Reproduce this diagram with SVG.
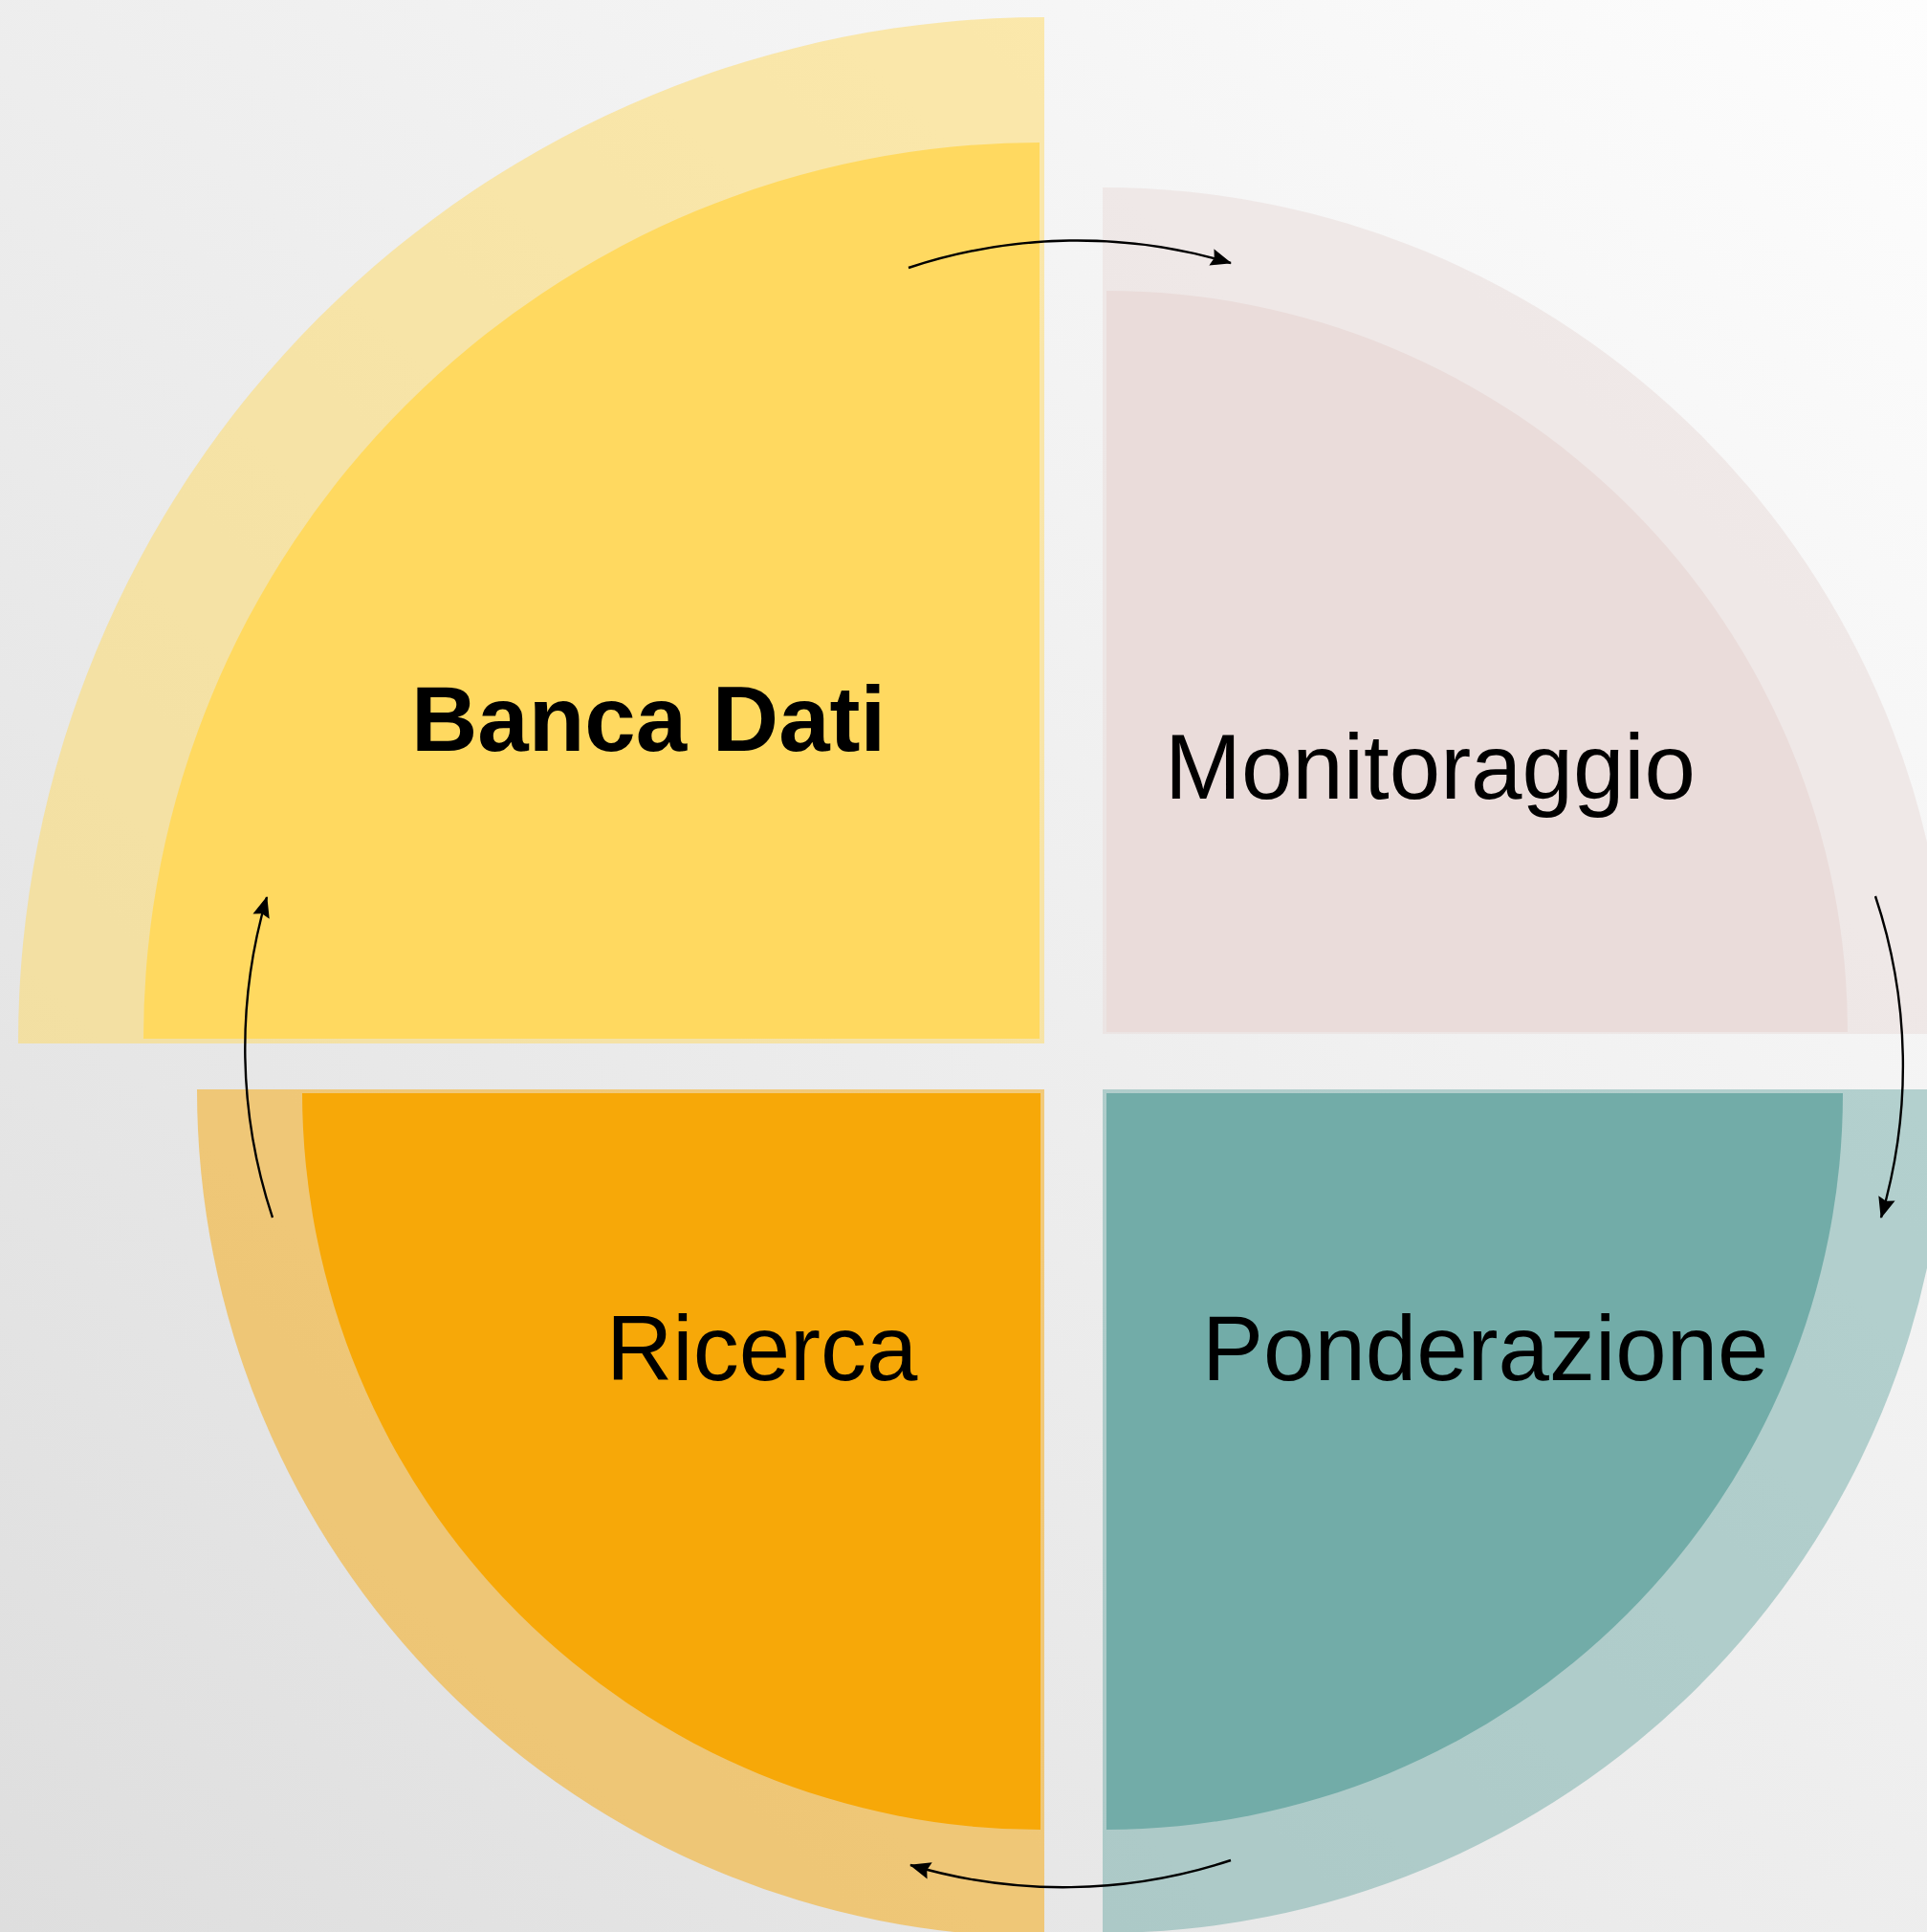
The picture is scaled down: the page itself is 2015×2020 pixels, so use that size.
<svg xmlns="http://www.w3.org/2000/svg" width="2015" height="2020" viewBox="0 0 2015 2020">
<defs>
<linearGradient id="bg" x1="0" y1="1" x2="1" y2="0">
<stop offset="0" stop-color="#DEDEDE"/>
<stop offset="1" stop-color="#FDFDFD"/>
</linearGradient>
<marker id="ah" viewBox="0 0 22 18" refX="21" refY="9" markerWidth="22" markerHeight="18" markerUnits="userSpaceOnUse" orient="auto">
<path d="M0,0 L22,9 L0,18 L3,9 Z" fill="#000"/>
</marker>
</defs>
<style>
.lbl{font-family:"Liberation Sans",Arial,sans-serif;font-size:96px;fill:#000}
.bold{font-weight:bold}
.conn{fill:none;stroke:#000;stroke-width:2.4;marker-end:url(#ah)}
</style>
<rect x="0" y="0" width="2015" height="2020" fill="url(#bg)"/>
<g id="banca-dati">
<path d="M1092 1091 L19 1091 A1073 1073 0 0 1 1092 18 Z" fill="#FFD960" fill-opacity="0.5"/>
<path d="M1087 1086 L150 1086 A937 937 0 0 1 1087 149 Z" fill="#FFD960"/>
<text class="lbl bold" x="430" y="785">Banca Dati</text>
</g>
<g id="monitoraggio">
<path d="M1153 1081 L1153 196 A885 885 0 0 1 2038 1081 Z" fill="#EADCDA" fill-opacity="0.55"/>
<path d="M1157 1079 L1157 304 A775 775 0 0 1 1932 1079 Z" fill="#EADCDA"/>
<text class="lbl" x="1218" y="835">Monitoraggio</text>
</g>
<g id="ponderazione">
<path d="M1153 1139 L2035 1139 A882 882 0 0 1 1153 2021 Z" fill="#72ACA8" fill-opacity="0.5"/>
<path d="M1157 1143 L1927 1143 A770 770 0 0 1 1157 1913 Z" fill="#72ACA8"/>
<text class="lbl" x="1257" y="1443">Ponderazione</text>
</g>
<g id="ricerca">
<path d="M1092 1139 L1092 2025 A886 886 0 0 1 206 1139 Z" fill="#F7A808" fill-opacity="0.5"/>
<path d="M1088 1143 L1088 1913 A772 772 0 0 1 316 1143 Z" fill="#F7A808"/>
<text class="lbl" x="634" y="1443">Ricerca</text>
</g>
<g id="connectors">
<path class="conn" d="M950 280 A560 560 0 0 1 1287 275"/>
<path class="conn" d="M1961 937 A560 560 0 0 1 1967 1273"/>
<path class="conn" d="M1287 1945 A560 560 0 0 1 952 1950"/>
<path class="conn" d="M285 1273 A560 560 0 0 1 279 938"/>
</g>
</svg>
